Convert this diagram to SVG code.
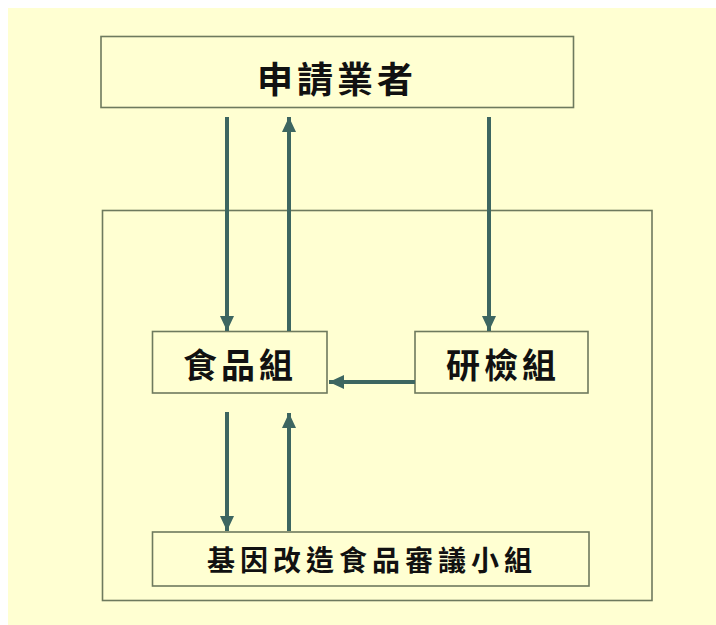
<svg xmlns="http://www.w3.org/2000/svg" width="716" height="625" viewBox="0 0 716 625">
<style>
.box{fill:none;stroke:#6e7a5e;stroke-width:1.6}
.fill{fill:#ffffd2;stroke:#6e7a5e;stroke-width:1.6}
.lbl{font-family:"Noto Sans CJK TC","Noto Sans CJK SC",sans-serif;font-weight:700;fill:#111;text-anchor:middle}
.c{stroke:#3d6661;stroke-width:4;fill:none}
</style>
<defs>
<marker id="ah" markerUnits="userSpaceOnUse" markerWidth="16" markerHeight="14" refX="15" refY="7" orient="auto">
<path d="M0,0 L15,7 L0,14 Z" fill="#3d6661"/>
</marker>
</defs>
<rect x="0" y="0" width="716" height="625" fill="#ffffff"/>
<rect x="8" y="8" width="708" height="617" fill="#ffffd2"/>
<g id="outer"><rect class="box" x="102.5" y="210.5" width="549.5" height="390"/></g>
<g id="applicant"><rect class="fill" x="101" y="36.5" width="472.5" height="71"/><text class="lbl" x="337" y="93" font-size="36" letter-spacing="4">申請業者</text></g>
<g id="food"><rect class="fill" x="152.5" y="331.5" width="174.5" height="61.5"/><text class="lbl" x="240" y="378" font-size="34" letter-spacing="4">食品組</text></g>
<g id="lab"><rect class="fill" x="415" y="331.5" width="173" height="61.5"/><text class="lbl" x="503" y="378" font-size="34" letter-spacing="4">研檢組</text></g>
<g id="panel"><rect class="fill" x="152.5" y="532" width="436.5" height="54"/><text class="lbl" x="372" y="571" font-size="28" letter-spacing="5">基因改造食品審議小組</text></g>
<g id="connectors">
<line class="c" x1="227" y1="117" x2="227" y2="331" marker-end="url(#ah)"/>
<line class="c" x1="289" y1="331" x2="289" y2="117" marker-end="url(#ah)"/>
<line class="c" x1="489" y1="117" x2="489" y2="331" marker-end="url(#ah)"/>
<line class="c" x1="415" y1="382" x2="329" y2="382" marker-end="url(#ah)"/>
<line class="c" x1="227" y1="412" x2="227" y2="531" marker-end="url(#ah)"/>
<line class="c" x1="289" y1="531" x2="289" y2="413" marker-end="url(#ah)"/>
</g>
</svg>
